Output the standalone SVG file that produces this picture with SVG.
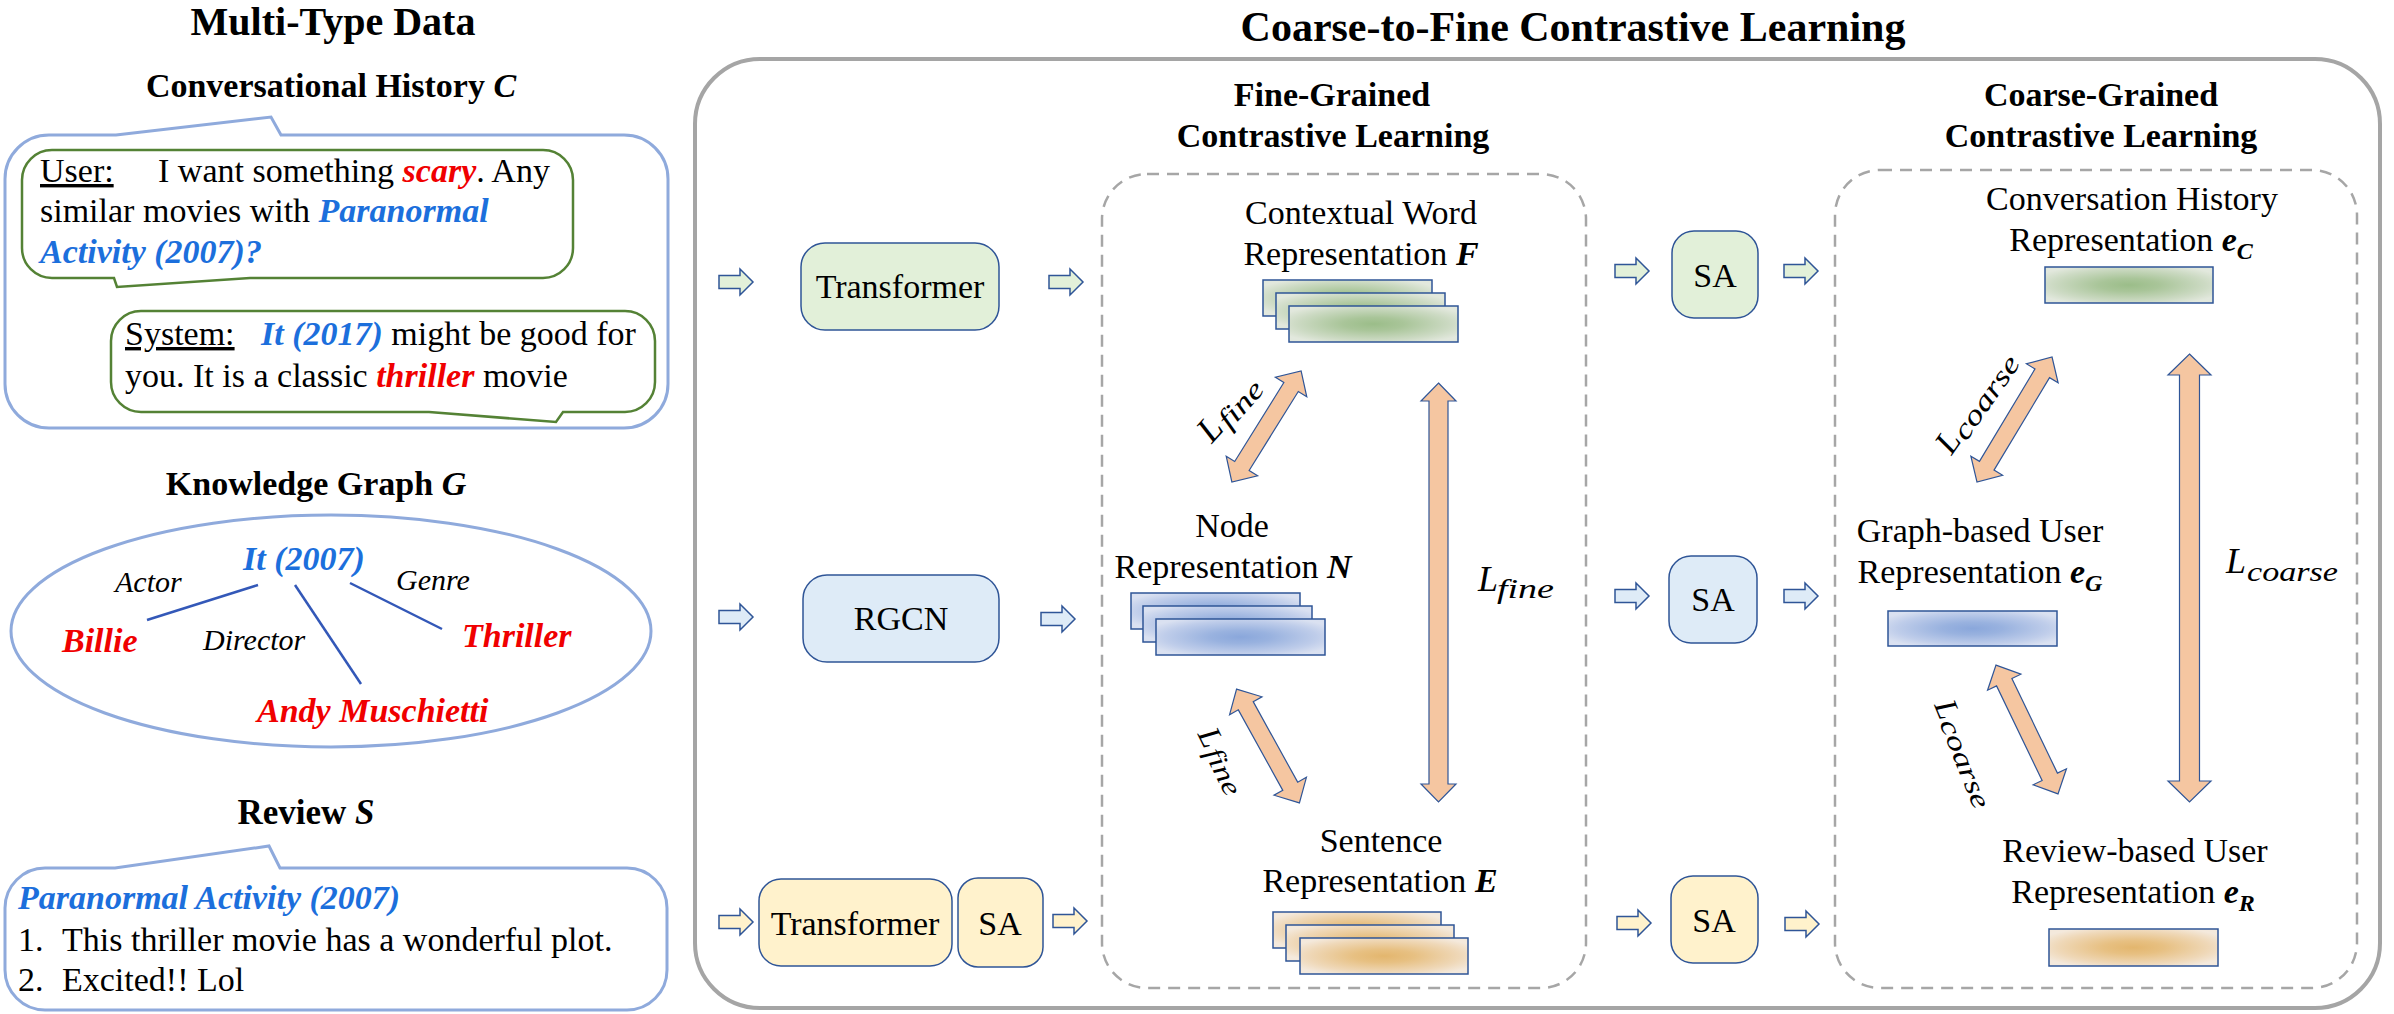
<svg xmlns="http://www.w3.org/2000/svg" width="2394" height="1014" viewBox="0 0 2394 1014">
<style>
text{font-family:"Liberation Serif","Times New Roman",serif;fill:#000}
.t{font-size:34px}
.b{font-weight:bold}
.bi{font-weight:bold;font-style:italic}
.i{font-style:italic}
.blue{fill:#1C6FDC}
.red{fill:#F00000}
.call{fill:none;stroke:#8FAADC;stroke-width:3}
.bub{fill:none;stroke:#548235;stroke-width:2.5}
.edge{stroke:#3358B8;stroke-width:2.5}
.box{stroke:#2F5597;stroke-width:1.5}
.g{fill:#E2F0D9}
.bl{fill:#DEEBF7}
.y{fill:#FFF2CC}
.dash{fill:none;stroke:#A6A6A6;stroke-width:2.5;stroke-dasharray:12 8}
.dbl{fill:#F5C6A1;stroke:#2F5597;stroke-width:1.2}
.card{stroke:#2F5597;stroke-width:1.5}
</style>
<defs>
<radialGradient id="gG" cx="0.5" cy="0.5" r="0.6"><stop offset="0" stop-color="#9BBD89"/><stop offset="0.3" stop-color="#A9C599"/><stop offset="0.75" stop-color="#CCDAC3"/><stop offset="1" stop-color="#E2E8DD"/></radialGradient>
<radialGradient id="gB" cx="0.5" cy="0.5" r="0.6"><stop offset="0" stop-color="#8AA7DB"/><stop offset="0.3" stop-color="#99B2DF"/><stop offset="0.75" stop-color="#BFCDEA"/><stop offset="1" stop-color="#DAE1F1"/></radialGradient>
<radialGradient id="gO" cx="0.5" cy="0.5" r="0.6"><stop offset="0" stop-color="#E3B66E"/><stop offset="0.3" stop-color="#E7C082"/><stop offset="0.75" stop-color="#EFD8B8"/><stop offset="1" stop-color="#F4E9DC"/></radialGradient>
<path id="ba" d="M0,-6.5 H21 V-13 L34,0 L21,13 V6.5 H0 Z"/>
</defs>

<g id="titles">
<text x="333" y="35" class="b" font-size="40" text-anchor="middle">Multi-Type Data</text>
<text x="1573" y="41" class="b" font-size="42" text-anchor="middle">Coarse-to-Fine Contrastive Learning</text>
</g>

<g id="conversational-history">
<text x="331" y="97" class="t b" text-anchor="middle">Conversational History <tspan class="bi">C</tspan></text>
<path class="call" d="M49,135 H116 L271,117 L281,135 H624 A44,44 0 0 1 668,179 V384 A44,44 0 0 1 624,428 H49 A44,44 0 0 1 5,384 V179 A44,44 0 0 1 49,135 Z"/>
<path class="bub" d="M52,150 H543 A30,30 0 0 1 573,180 V248 A30,30 0 0 1 543,278 H250 L117,287 L114,278 H52 A30,30 0 0 1 22,248 V180 A30,30 0 0 1 52,150 Z"/>
<text class="t" y="182"><tspan x="40" text-decoration="underline">User:</tspan><tspan x="158">I want something </tspan><tspan class="bi red">scary</tspan><tspan>. Any</tspan></text>
<text class="t" x="40" y="222">similar movies with <tspan class="bi blue">Paranormal</tspan></text>
<text class="t bi blue" x="40" y="263">Activity (2007)?</text>
<path class="bub" d="M141,311 H625 A30,30 0 0 1 655,341 V382 A30,30 0 0 1 625,412 H563 L556,422 L429,412 H141 A30,30 0 0 1 111,382 V341 A30,30 0 0 1 141,311 Z"/>
<text class="t" y="345"><tspan x="125" text-decoration="underline">System:</tspan><tspan x="261" class="bi blue">It (2017)</tspan><tspan> might be good for</tspan></text>
<text class="t" x="125" y="387">you. It is a classic <tspan class="bi red">thriller</tspan> movie</text>
</g>

<g id="knowledge-graph">
<text x="316" y="495" class="t b" text-anchor="middle">Knowledge Graph  <tspan class="bi">G</tspan></text>
<ellipse class="call" cx="331" cy="631" rx="320" ry="116"/>
<line class="edge" x1="147" y1="620" x2="258" y2="585"/>
<line class="edge" x1="295" y1="585" x2="361" y2="684"/>
<line class="edge" x1="350" y1="583" x2="442" y2="629"/>
<text class="t bi blue" x="243" y="570">It (2007)</text>
<text class="i" font-size="30" x="115" y="592">Actor</text>
<text class="i" font-size="30" x="396" y="590">Genre</text>
<text class="i" font-size="30" x="203" y="650">Director</text>
<text class="t bi red" x="62" y="652">Billie</text>
<text class="t bi red" x="462" y="647">Thriller</text>
<text class="t bi red" x="257" y="722">Andy Muschietti</text>
</g>

<g id="review">
<text x="306" y="824" class="b" font-size="35" text-anchor="middle">Review <tspan class="bi">S</tspan></text>
<path class="call" d="M45,868 H115 L269,846 L280,868 H627 A40,40 0 0 1 667,908 V970 A40,40 0 0 1 627,1010 H45 A40,40 0 0 1 5,970 V908 A40,40 0 0 1 45,868 Z"/>
<text class="t bi blue" x="18" y="909">Paranormal Activity (2007)</text>
<text class="t" y="951"><tspan x="18">1.</tspan><tspan x="62">This thriller movie has a wonderful plot.</tspan></text>
<text class="t" y="991"><tspan x="18">2.</tspan><tspan x="62">Excited!! Lol</tspan></text>
</g>

<g id="coarse-to-fine-panel">
<rect x="695" y="59" width="1685" height="949" rx="65" fill="none" stroke="#A5A5A5" stroke-width="4"/>
</g>

<g id="fine-grained">
<text x="1332" y="106" class="t b" text-anchor="middle">Fine-Grained</text>
<text x="1333" y="147" class="t b" text-anchor="middle">Contrastive Learning</text>
<rect class="dash" x="1102" y="174" width="484" height="814" rx="45"/>
</g>

<g id="coarse-grained">
<text x="2101" y="106" class="t b" text-anchor="middle">Coarse-Grained</text>
<text x="2101" y="147" class="t b" text-anchor="middle">Contrastive Learning</text>
<rect class="dash" x="1835" y="170" width="522" height="818" rx="45"/>
</g>

<g id="transformer-conv">
<rect class="g box" x="801" y="243" width="198" height="87" rx="24"/>
<text class="t" x="900" y="298" text-anchor="middle">Transformer</text>
</g>
<g id="rgcn">
<rect class="bl box" x="803" y="575" width="196" height="87" rx="24"/>
<text class="t" x="901" y="630" text-anchor="middle">RGCN</text>
</g>
<g id="transformer-review">
<rect class="y box" x="759" y="879" width="193" height="87" rx="22"/>
<text class="t" x="855" y="935" text-anchor="middle">Transformer</text>
</g>
<g id="sa-review-left">
<rect class="y box" x="958" y="878" width="85" height="89" rx="20"/>
<text class="t" x="1000" y="935" text-anchor="middle">SA</text>
</g>

<g id="word-representation">
<text class="t" x="1361" y="224" text-anchor="middle">Contextual Word</text>
<text class="t" x="1361" y="265" text-anchor="middle">Representation <tspan class="bi">F</tspan></text>
<rect class="card" fill="url(#gG)" x="1263" y="280" width="169" height="36"/>
<rect class="card" fill="url(#gG)" x="1276" y="293" width="169" height="36"/>
<rect class="card" fill="url(#gG)" x="1289" y="306" width="169" height="36"/>
</g>
<g id="node-representation">
<text class="t" x="1232" y="537" text-anchor="middle">Node</text>
<text class="t" x="1233" y="578" text-anchor="middle">Representation <tspan class="bi">N</tspan></text>
<rect class="card" fill="url(#gB)" x="1131" y="593" width="169" height="36"/>
<rect class="card" fill="url(#gB)" x="1143" y="606" width="169" height="36"/>
<rect class="card" fill="url(#gB)" x="1156" y="619" width="169" height="36"/>
</g>
<g id="sentence-representation">
<text class="t" x="1381" y="852" text-anchor="middle">Sentence</text>
<text class="t" x="1380" y="892" text-anchor="middle">Representation <tspan class="bi">E</tspan></text>
<rect class="card" fill="url(#gO)" x="1273" y="912" width="168" height="36"/>
<rect class="card" fill="url(#gO)" x="1286" y="925" width="168" height="36"/>
<rect class="card" fill="url(#gO)" x="1300" y="938" width="168" height="36"/>
</g>

<g id="sa-conv">
<rect class="g box" x="1672" y="231" width="86" height="87" rx="22"/>
<text class="t" x="1715" y="287" text-anchor="middle">SA</text>
</g>
<g id="sa-graph">
<rect class="bl box" x="1669" y="556" width="88" height="87" rx="22"/>
<text class="t" x="1713" y="611" text-anchor="middle">SA</text>
</g>
<g id="sa-review">
<rect class="y box" x="1671" y="876" width="87" height="87" rx="22"/>
<text class="t" x="1714" y="932" text-anchor="middle">SA</text>
</g>

<g id="conv-user-representation">
<text class="t" x="2132" y="210" text-anchor="middle">Conversation History</text>
<text class="t" x="2131" y="251" text-anchor="middle">Representation <tspan class="bi">e</tspan><tspan class="bi" font-size="24" dy="8">C</tspan></text>
<rect class="card" fill="url(#gG)" x="2045" y="267" width="168" height="36"/>
</g>
<g id="graph-user-representation">
<text class="t" x="1980" y="542" text-anchor="middle">Graph-based User</text>
<text class="t" x="1980" y="583" text-anchor="middle">Representation <tspan class="bi">e</tspan><tspan class="bi" font-size="24" dy="8">G</tspan></text>
<rect class="card" fill="url(#gB)" x="1888" y="611" width="169" height="35"/>
</g>
<g id="review-user-representation">
<text class="t" x="2135" y="862" text-anchor="middle">Review-based User</text>
<text class="t" x="2133" y="903" text-anchor="middle">Representation <tspan class="bi">e</tspan><tspan class="bi" font-size="24" dy="8">R</tspan></text>
<rect class="card" fill="url(#gO)" x="2049" y="929" width="169" height="37"/>
</g>

<g id="connectors">
<use href="#ba" class="g box" transform="translate(719,282)"/>
<use href="#ba" class="g box" transform="translate(1049,282)"/>
<use href="#ba" class="g box" transform="translate(1615,271)"/>
<use href="#ba" class="g box" transform="translate(1784,271)"/>
<use href="#ba" class="bl box" transform="translate(719,617)"/>
<use href="#ba" class="bl box" transform="translate(1041,619)"/>
<use href="#ba" class="bl box" transform="translate(1615,596)"/>
<use href="#ba" class="bl box" transform="translate(1784,596)"/>
<use href="#ba" class="y box" transform="translate(719,922)"/>
<use href="#ba" class="y box" transform="translate(1053,921)"/>
<use href="#ba" class="y box" transform="translate(1617,923)"/>
<use href="#ba" class="y box" transform="translate(1785,924)"/>

<polygon class="dbl" transform="translate(1266.5,426.5) rotate(-58.1)" points="-65.5,0 -46.5,-18.5 -46.5,-8.5 46.5,-8.5 46.5,-18.5 65.5,0 46.5,18.5 46.5,8.5 -46.5,8.5 -46.5,18.5"/>
<polygon class="dbl" transform="translate(1268,746) rotate(61.1)" points="-65,0 -46,-18.5 -46,-8.5 46,-8.5 46,-18.5 65,0 46,18.5 46,8.5 -46,8.5 -46,18.5"/>
<polygon class="dbl" transform="translate(1438.5,592.5) rotate(90)" points="-209.5,0 -191.5,-17.5 -191.5,-9.5 191.5,-9.5 191.5,-17.5 209.5,0 191.5,17.5 191.5,9.5 -191.5,9.5 -191.5,17.5"/>
<polygon class="dbl" transform="translate(2014.5,419.5) rotate(-59)" points="-72.9,0 -53.9,-18.5 -53.9,-8.5 53.9,-8.5 53.9,-18.5 72.9,0 53.9,18.5 53.9,8.5 -53.9,8.5 -53.9,18.5"/>
<polygon class="dbl" transform="translate(2027,729.5) rotate(64.3)" points="-71.5,0 -52.5,-18.5 -52.5,-8.5 52.5,-8.5 52.5,-18.5 71.5,0 52.5,18.5 52.5,8.5 -52.5,8.5 -52.5,18.5"/>
<polygon class="dbl" transform="translate(2189.5,578) rotate(90)" points="-224,0 -203,-21.5 -203,-10 203,-10 203,-21.5 224,0 203,21.5 203,10 -203,10 -203,21.5"/>

<g transform="translate(1231,405) rotate(-48)">
<text class="i" font-size="36" x="-42" y="12">L</text>
<text class="i" font-size="28" x="-20" y="16" textLength="54" lengthAdjust="spacingAndGlyphs">fine</text>
</g>
<g transform="translate(1222,762) rotate(64)">
<text class="i" font-size="32" x="-36" y="10">L</text>
<text class="i" font-size="27" x="-16" y="12" textLength="50" lengthAdjust="spacingAndGlyphs">fine</text>
</g>
<g transform="translate(1976,400) rotate(-55)">
<text class="i" font-size="34" x="-60" y="12">L</text>
<text class="i" font-size="28" x="-40" y="16" textLength="96" lengthAdjust="spacingAndGlyphs">coarse</text>
</g>
<g transform="translate(1965,755) rotate(68)">
<text class="i" font-size="32" x="-58" y="10">L</text>
<text class="i" font-size="27" x="-39" y="12" textLength="94" lengthAdjust="spacingAndGlyphs">coarse</text>
</g>
<text class="i" font-size="36" x="1478" y="591">L</text>
<text class="i" font-size="28" x="1497" y="598" textLength="57" lengthAdjust="spacingAndGlyphs">fine</text>
<text class="i" font-size="36" x="2226" y="573">L</text>
<text class="i" font-size="28" x="2247" y="581" textLength="91" lengthAdjust="spacingAndGlyphs">coarse</text>
</g>
</svg>
